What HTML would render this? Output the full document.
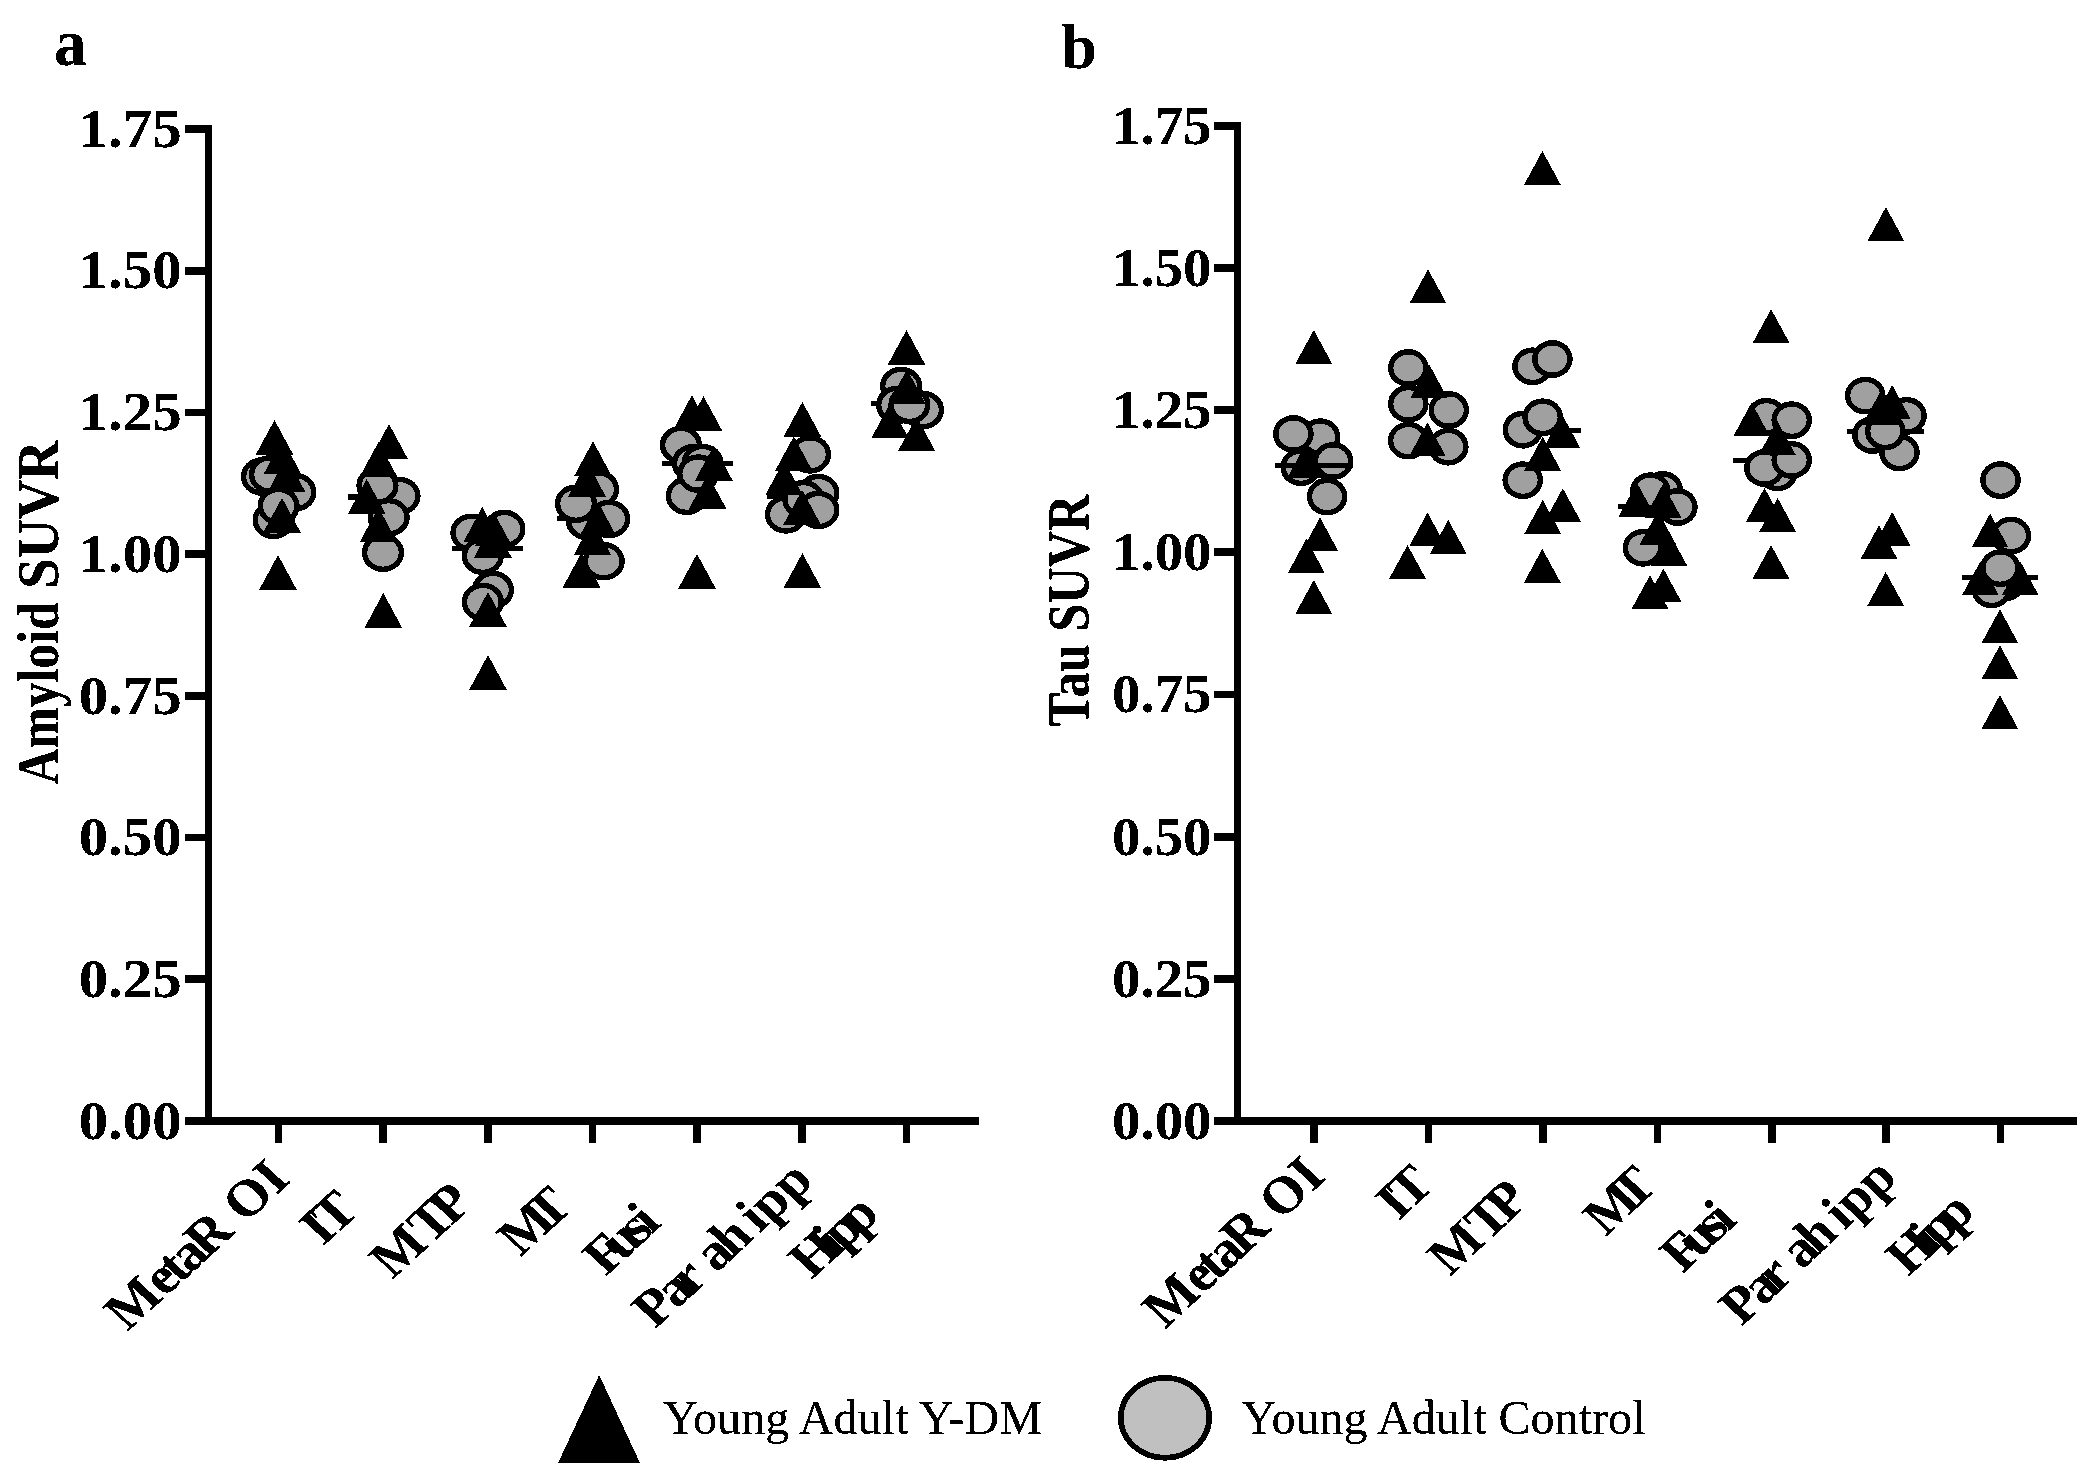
<!DOCTYPE html>
<html lang="en"><head><meta charset="utf-8"><title>Amyloid and Tau SUVR</title>
<style>html,body{margin:0;padding:0;background:#fff}svg{display:block}</style></head>
<body>
<svg width="2099" height="1480" viewBox="0 0 2099 1480" font-family='"Liberation Serif", serif' fill="#000">
<rect width="2099" height="1480" fill="#fff"/>
<defs><filter id="crisp" x="0" y="0" width="100%" height="100%" filterUnits="userSpaceOnUse" color-interpolation-filters="sRGB"><feComponentTransfer><feFuncA type="discrete" tableValues="0 0 1 1 1"/></feComponentTransfer></filter></defs>
<g shape-rendering="crispEdges">
<rect x="205" y="125.0" width="7" height="1000.0"/>
<rect x="185" y="1117" width="794" height="8"/>
<rect x="185" y="125.0" width="21" height="7.8"/>
<rect x="185" y="266.7" width="21" height="7.8"/>
<rect x="185" y="408.5" width="21" height="7.8"/>
<rect x="185" y="550.2" width="21" height="7.8"/>
<rect x="185" y="691.9" width="21" height="7.8"/>
<rect x="185" y="833.6" width="21" height="7.8"/>
<rect x="185" y="975.4" width="21" height="7.8"/>
<rect x="274.7" y="1124" width="7.6" height="19"/>
<rect x="379.4" y="1124" width="7.6" height="19"/>
<rect x="484.0" y="1124" width="7.6" height="19"/>
<rect x="588.7" y="1124" width="7.6" height="19"/>
<rect x="693.4" y="1124" width="7.6" height="19"/>
<rect x="798.1" y="1124" width="7.6" height="19"/>
<rect x="902.7" y="1124" width="7.6" height="19"/>
<rect x="1234" y="121.8" width="7" height="1003.2"/>
<rect x="1214" y="1117" width="863" height="8"/>
<rect x="1214" y="121.8" width="21" height="7.8"/>
<rect x="1214" y="264.0" width="21" height="7.8"/>
<rect x="1214" y="406.2" width="21" height="7.8"/>
<rect x="1214" y="548.4" width="21" height="7.8"/>
<rect x="1214" y="690.6" width="21" height="7.8"/>
<rect x="1214" y="832.8" width="21" height="7.8"/>
<rect x="1214" y="974.9" width="21" height="7.8"/>
<rect x="1310.2" y="1124" width="7.6" height="19"/>
<rect x="1424.6" y="1124" width="7.6" height="19"/>
<rect x="1539.1" y="1124" width="7.6" height="19"/>
<rect x="1653.5" y="1124" width="7.6" height="19"/>
<rect x="1767.9" y="1124" width="7.6" height="19"/>
<rect x="1882.4" y="1124" width="7.6" height="19"/>
<rect x="1996.8" y="1124" width="7.6" height="19"/>
</g>
<g shape-rendering="crispEdges">
<ellipse cx="262.0" cy="476.5" rx="18.4" ry="16.6" fill="#a0a0a0" stroke="#000" stroke-width="5.4"/>
<ellipse cx="270.0" cy="474.5" rx="18.4" ry="16.6" fill="#a0a0a0" stroke="#000" stroke-width="5.4"/>
<ellipse cx="295.4" cy="492.2" rx="18.4" ry="16.6" fill="#a0a0a0" stroke="#000" stroke-width="5.4"/>
<ellipse cx="273.6" cy="520.0" rx="18.4" ry="16.6" fill="#a0a0a0" stroke="#000" stroke-width="5.4"/>
<ellipse cx="278.6" cy="506.0" rx="18.4" ry="16.6" fill="#a0a0a0" stroke="#000" stroke-width="5.4"/>
<polygon points="274.5,420.0 255.7,454.8 293.3,454.8"/>
<polygon points="282.5,439.2 263.7,474.0 301.3,474.0"/>
<polygon points="286.5,457.0 267.7,491.8 305.3,491.8"/>
<polygon points="282.0,497.8 263.2,532.6 300.8,532.6"/>
<polygon points="278.0,555.0 259.2,589.8 296.8,589.8"/>
<rect x="347.6" y="494.3" width="71.0" height="5.4"/>
<ellipse cx="399.5" cy="496.0" rx="18.4" ry="16.6" fill="#a0a0a0" stroke="#000" stroke-width="5.4"/>
<ellipse cx="377.5" cy="485.6" rx="18.4" ry="16.6" fill="#a0a0a0" stroke="#000" stroke-width="5.4"/>
<ellipse cx="388.7" cy="517.3" rx="18.4" ry="16.6" fill="#a0a0a0" stroke="#000" stroke-width="5.4"/>
<ellipse cx="383.0" cy="552.7" rx="18.4" ry="16.6" fill="#a0a0a0" stroke="#000" stroke-width="5.4"/>
<polygon points="389.0,424.0 370.2,458.8 407.8,458.8"/>
<polygon points="378.5,442.0 359.7,476.8 397.3,476.8"/>
<polygon points="366.7,479.0 347.9,513.8 385.5,513.8"/>
<polygon points="378.5,507.3 359.7,542.1 397.3,542.1"/>
<polygon points="383.3,593.0 364.5,627.8 402.1,627.8"/>
<ellipse cx="471.4" cy="532.8" rx="18.4" ry="16.6" fill="#a0a0a0" stroke="#000" stroke-width="5.4"/>
<ellipse cx="504.4" cy="529.0" rx="18.4" ry="16.6" fill="#a0a0a0" stroke="#000" stroke-width="5.4"/>
<rect x="452.0" y="545.8" width="70.7" height="5.4"/>
<ellipse cx="482.8" cy="555.8" rx="18.4" ry="16.6" fill="#a0a0a0" stroke="#000" stroke-width="5.4"/>
<ellipse cx="493.0" cy="590.0" rx="18.4" ry="16.6" fill="#a0a0a0" stroke="#000" stroke-width="5.4"/>
<ellipse cx="482.8" cy="602.0" rx="18.4" ry="16.6" fill="#a0a0a0" stroke="#000" stroke-width="5.4"/>
<polygon points="482.3,507.0 463.5,541.8 501.1,541.8"/>
<polygon points="493.5,511.6 474.7,546.4 512.3,546.4"/>
<polygon points="492.8,522.7 474.0,557.5 511.6,557.5"/>
<polygon points="488.0,592.0 469.2,626.8 506.8,626.8"/>
<polygon points="488.0,655.0 469.2,689.8 506.8,689.8"/>
<ellipse cx="587.0" cy="521.0" rx="18.4" ry="16.6" fill="#a0a0a0" stroke="#000" stroke-width="5.4"/>
<rect x="557.0" y="515.7" width="71.0" height="5.4"/>
<ellipse cx="598.1" cy="489.3" rx="18.4" ry="16.6" fill="#a0a0a0" stroke="#000" stroke-width="5.4"/>
<ellipse cx="576.0" cy="503.7" rx="18.4" ry="16.6" fill="#a0a0a0" stroke="#000" stroke-width="5.4"/>
<ellipse cx="609.2" cy="519.0" rx="18.4" ry="16.6" fill="#a0a0a0" stroke="#000" stroke-width="5.4"/>
<ellipse cx="603.7" cy="561.2" rx="18.4" ry="16.6" fill="#a0a0a0" stroke="#000" stroke-width="5.4"/>
<polygon points="593.0,441.2 574.2,476.0 611.8,476.0"/>
<polygon points="587.0,461.7 568.2,496.5 605.8,496.5"/>
<polygon points="598.0,502.0 579.2,536.8 616.8,536.8"/>
<polygon points="592.4,520.4 573.6,555.2 611.2,555.2"/>
<polygon points="581.5,552.7 562.7,587.5 600.3,587.5"/>
<ellipse cx="681.0" cy="445.0" rx="18.4" ry="16.6" fill="#a0a0a0" stroke="#000" stroke-width="5.4"/>
<ellipse cx="686.8" cy="495.8" rx="18.4" ry="16.6" fill="#a0a0a0" stroke="#000" stroke-width="5.4"/>
<rect x="661.9" y="460.6" width="70.9" height="5.4"/>
<ellipse cx="692.9" cy="463.4" rx="18.4" ry="16.6" fill="#a0a0a0" stroke="#000" stroke-width="5.4"/>
<ellipse cx="702.5" cy="463.0" rx="18.4" ry="16.6" fill="#a0a0a0" stroke="#000" stroke-width="5.4"/>
<ellipse cx="698.2" cy="473.6" rx="18.4" ry="16.6" fill="#a0a0a0" stroke="#000" stroke-width="5.4"/>
<polygon points="713.8,445.7 695.0,480.5 732.6,480.5"/>
<polygon points="707.7,474.2 688.9,509.0 726.5,509.0"/>
<polygon points="691.9,395.2 673.1,430.0 710.7,430.0"/>
<polygon points="703.5,396.1 684.7,430.9 722.3,430.9"/>
<polygon points="697.0,553.9 678.2,588.7 715.8,588.7"/>
<rect x="766.8" y="493.3" width="70.7" height="5.4"/>
<ellipse cx="810.0" cy="454.4" rx="18.4" ry="16.6" fill="#a0a0a0" stroke="#000" stroke-width="5.4"/>
<ellipse cx="818.4" cy="493.0" rx="18.4" ry="16.6" fill="#a0a0a0" stroke="#000" stroke-width="5.4"/>
<ellipse cx="785.9" cy="514.4" rx="18.4" ry="16.6" fill="#a0a0a0" stroke="#000" stroke-width="5.4"/>
<ellipse cx="803.4" cy="499.2" rx="18.4" ry="16.6" fill="#a0a0a0" stroke="#000" stroke-width="5.4"/>
<ellipse cx="818.4" cy="510.0" rx="18.4" ry="16.6" fill="#a0a0a0" stroke="#000" stroke-width="5.4"/>
<polygon points="802.4,401.9 783.6,436.7 821.2,436.7"/>
<polygon points="793.8,436.3 775.0,471.1 812.6,471.1"/>
<polygon points="784.0,460.5 765.2,495.3 802.8,495.3"/>
<polygon points="802.1,489.9 783.3,524.7 820.9,524.7"/>
<polygon points="802.4,553.1 783.6,587.9 821.2,587.9"/>
<rect x="870.8" y="400.9" width="71.0" height="5.4"/>
<ellipse cx="901.1" cy="386.0" rx="18.4" ry="16.6" fill="#a0a0a0" stroke="#000" stroke-width="5.4"/>
<ellipse cx="897.1" cy="405.0" rx="18.4" ry="16.6" fill="#a0a0a0" stroke="#000" stroke-width="5.4"/>
<ellipse cx="923.0" cy="410.0" rx="18.4" ry="16.6" fill="#a0a0a0" stroke="#000" stroke-width="5.4"/>
<ellipse cx="909.4" cy="404.8" rx="18.4" ry="16.6" fill="#a0a0a0" stroke="#000" stroke-width="5.4"/>
<polygon points="906.5,330.0 887.7,364.8 925.3,364.8"/>
<polygon points="907.0,369.2 888.2,404.0 925.8,404.0"/>
<polygon points="890.0,403.6 871.2,438.4 908.8,438.4"/>
<polygon points="916.6,416.6 897.8,451.4 935.4,451.4"/>
<ellipse cx="1320.2" cy="437.2" rx="17.6" ry="16.2" fill="#a0a0a0" stroke="#000" stroke-width="5.4"/>
<ellipse cx="1293.4" cy="434.0" rx="17.6" ry="16.2" fill="#a0a0a0" stroke="#000" stroke-width="5.4"/>
<ellipse cx="1300.7" cy="467.2" rx="17.6" ry="16.2" fill="#a0a0a0" stroke="#000" stroke-width="5.4"/>
<ellipse cx="1333.1" cy="461.0" rx="17.6" ry="16.2" fill="#a0a0a0" stroke="#000" stroke-width="5.4"/>
<ellipse cx="1327.1" cy="496.6" rx="17.6" ry="16.2" fill="#a0a0a0" stroke="#000" stroke-width="5.4"/>
<polygon points="1313.8,330.0 1295.5,363.7 1332.1,363.7"/>
<polygon points="1305.7,443.8 1287.4,477.5 1324.0,477.5"/>
<polygon points="1320.0,517.5 1301.7,551.2 1338.3,551.2"/>
<polygon points="1306.3,539.0 1288.0,572.7 1324.6,572.7"/>
<polygon points="1313.8,580.0 1295.5,613.7 1332.1,613.7"/>
<rect x="1275.0" y="462.8" width="77.8" height="5.4"/>
<ellipse cx="1408.3" cy="368.0" rx="17.6" ry="16.2" fill="#a0a0a0" stroke="#000" stroke-width="5.4"/>
<ellipse cx="1408.3" cy="403.8" rx="17.6" ry="16.2" fill="#a0a0a0" stroke="#000" stroke-width="5.4"/>
<ellipse cx="1448.8" cy="410.0" rx="17.6" ry="16.2" fill="#a0a0a0" stroke="#000" stroke-width="5.4"/>
<ellipse cx="1408.3" cy="440.6" rx="17.6" ry="16.2" fill="#a0a0a0" stroke="#000" stroke-width="5.4"/>
<ellipse cx="1448.3" cy="446.7" rx="17.6" ry="16.2" fill="#a0a0a0" stroke="#000" stroke-width="5.4"/>
<polygon points="1428.0,269.3 1409.7,303.0 1446.3,303.0"/>
<polygon points="1429.0,364.0 1410.7,397.7 1447.3,397.7"/>
<polygon points="1427.5,422.5 1409.2,456.2 1445.8,456.2"/>
<polygon points="1427.5,512.5 1409.2,546.2 1445.8,546.2"/>
<polygon points="1448.3,520.0 1430.0,553.7 1466.6,553.7"/>
<polygon points="1407.5,545.0 1389.2,578.7 1425.8,578.7"/>
<rect x="1503.4" y="427.8" width="77.6" height="5.4"/>
<ellipse cx="1532.5" cy="366.3" rx="17.6" ry="16.2" fill="#a0a0a0" stroke="#000" stroke-width="5.4"/>
<ellipse cx="1552.4" cy="359.0" rx="17.6" ry="16.2" fill="#a0a0a0" stroke="#000" stroke-width="5.4"/>
<ellipse cx="1522.8" cy="429.7" rx="17.6" ry="16.2" fill="#a0a0a0" stroke="#000" stroke-width="5.4"/>
<ellipse cx="1542.7" cy="417.3" rx="17.6" ry="16.2" fill="#a0a0a0" stroke="#000" stroke-width="5.4"/>
<ellipse cx="1522.7" cy="480.2" rx="17.6" ry="16.2" fill="#a0a0a0" stroke="#000" stroke-width="5.4"/>
<polygon points="1542.4,151.0 1524.1,184.7 1560.7,184.7"/>
<polygon points="1562.0,414.3 1543.7,448.0 1580.3,448.0"/>
<polygon points="1542.7,436.8 1524.4,470.5 1561.0,470.5"/>
<polygon points="1562.8,488.2 1544.5,521.9 1581.1,521.9"/>
<polygon points="1542.7,499.9 1524.4,533.6 1561.0,533.6"/>
<polygon points="1542.3,548.8 1524.0,582.5 1560.6,582.5"/>
<rect x="1618.0" y="503.7" width="77.6" height="5.4"/>
<ellipse cx="1662.7" cy="490.0" rx="17.6" ry="16.2" fill="#a0a0a0" stroke="#000" stroke-width="5.4"/>
<ellipse cx="1650.3" cy="491.2" rx="17.6" ry="16.2" fill="#a0a0a0" stroke="#000" stroke-width="5.4"/>
<ellipse cx="1677.4" cy="507.0" rx="17.6" ry="16.2" fill="#a0a0a0" stroke="#000" stroke-width="5.4"/>
<ellipse cx="1643.0" cy="547.8" rx="17.6" ry="16.2" fill="#a0a0a0" stroke="#000" stroke-width="5.4"/>
<polygon points="1637.0,482.8 1618.7,516.5 1655.3,516.5"/>
<polygon points="1663.0,483.9 1644.7,517.6 1681.3,517.6"/>
<polygon points="1657.9,511.0 1639.6,544.7 1676.2,544.7"/>
<polygon points="1669.0,532.2 1650.7,565.9 1687.3,565.9"/>
<polygon points="1663.4,568.6 1645.1,602.3 1681.7,602.3"/>
<polygon points="1650.0,575.1 1631.7,608.8 1668.3,608.8"/>
<rect x="1732.8" y="457.5" width="77.6" height="5.4"/>
<ellipse cx="1777.5" cy="472.4" rx="17.6" ry="16.2" fill="#a0a0a0" stroke="#000" stroke-width="5.4"/>
<ellipse cx="1764.4" cy="468.0" rx="17.6" ry="16.2" fill="#a0a0a0" stroke="#000" stroke-width="5.4"/>
<ellipse cx="1791.7" cy="459.9" rx="17.6" ry="16.2" fill="#a0a0a0" stroke="#000" stroke-width="5.4"/>
<ellipse cx="1766.5" cy="416.8" rx="17.6" ry="16.2" fill="#a0a0a0" stroke="#000" stroke-width="5.4"/>
<polygon points="1751.6,402.6 1733.3,436.3 1769.9,436.3"/>
<ellipse cx="1791.7" cy="420.2" rx="17.6" ry="16.2" fill="#a0a0a0" stroke="#000" stroke-width="5.4"/>
<polygon points="1777.3,420.9 1759.0,454.6 1795.6,454.6"/>
<polygon points="1771.1,309.1 1752.8,342.8 1789.4,342.8"/>
<polygon points="1764.5,487.9 1746.2,521.6 1782.8,521.6"/>
<polygon points="1777.6,497.9 1759.3,531.6 1795.9,531.6"/>
<polygon points="1771.0,545.0 1752.7,578.7 1789.3,578.7"/>
<ellipse cx="1865.3" cy="395.6" rx="17.6" ry="16.2" fill="#a0a0a0" stroke="#000" stroke-width="5.4"/>
<ellipse cx="1906.5" cy="415.9" rx="17.6" ry="16.2" fill="#a0a0a0" stroke="#000" stroke-width="5.4"/>
<ellipse cx="1899.5" cy="452.5" rx="17.6" ry="16.2" fill="#a0a0a0" stroke="#000" stroke-width="5.4"/>
<rect x="1847.0" y="428.6" width="77.0" height="5.4"/>
<ellipse cx="1872.4" cy="435.0" rx="17.6" ry="16.2" fill="#a0a0a0" stroke="#000" stroke-width="5.4"/>
<ellipse cx="1885.3" cy="431.3" rx="17.6" ry="16.2" fill="#a0a0a0" stroke="#000" stroke-width="5.4"/>
<polygon points="1885.9,207.1 1867.6,240.8 1904.2,240.8"/>
<polygon points="1892.2,385.0 1873.9,418.7 1910.5,418.7"/>
<polygon points="1880.4,391.6 1862.1,425.3 1898.7,425.3"/>
<polygon points="1892.2,512.0 1873.9,545.7 1910.5,545.7"/>
<polygon points="1879.0,525.1 1860.7,558.8 1897.3,558.8"/>
<polygon points="1885.7,572.0 1867.4,605.7 1904.0,605.7"/>
<ellipse cx="2000.5" cy="480.1" rx="17.6" ry="16.2" fill="#a0a0a0" stroke="#000" stroke-width="5.4"/>
<ellipse cx="2011.0" cy="535.6" rx="17.6" ry="16.2" fill="#a0a0a0" stroke="#000" stroke-width="5.4"/>
<ellipse cx="2005.2" cy="582.5" rx="17.6" ry="16.2" fill="#a0a0a0" stroke="#000" stroke-width="5.4"/>
<ellipse cx="1991.7" cy="589.3" rx="17.6" ry="16.2" fill="#a0a0a0" stroke="#000" stroke-width="5.4"/>
<polygon points="1990.1,513.5 1971.8,547.2 2008.4,547.2"/>
<polygon points="1980.4,561.4 1962.1,595.1 1998.7,595.1"/>
<polygon points="2020.3,561.4 2002.0,595.1 2038.6,595.1"/>
<rect x="1961.8" y="574.7" width="76.4" height="5.4"/>
<ellipse cx="2000.4" cy="568.1" rx="17.6" ry="16.2" fill="#a0a0a0" stroke="#000" stroke-width="5.4"/>
<polygon points="1999.9,609.3 1981.6,643.0 2018.2,643.0"/>
<polygon points="1999.9,645.3 1981.6,679.0 2018.2,679.0"/>
<polygon points="1999.9,695.1 1981.6,728.8 2018.2,728.8"/>
</g>
<g shape-rendering="crispEdges">
<polygon points="599.2,1375 558,1463 640,1463"/>
<ellipse cx="1165" cy="1417.8" rx="44.2" ry="40" fill="#c0c0c0" stroke="#000" stroke-width="5.7"/>
</g>
<g filter="url(#crisp)">
<text transform="translate(181.5,146.7) scale(1.088,1)" text-anchor="end" font-size="54" font-weight="bold">1.75</text>
<text transform="translate(181.5,288.4) scale(1.088,1)" text-anchor="end" font-size="54" font-weight="bold">1.50</text>
<text transform="translate(181.5,430.2) scale(1.088,1)" text-anchor="end" font-size="54" font-weight="bold">1.25</text>
<text transform="translate(181.5,571.9) scale(1.088,1)" text-anchor="end" font-size="54" font-weight="bold">1.00</text>
<text transform="translate(181.5,713.6) scale(1.088,1)" text-anchor="end" font-size="54" font-weight="bold">0.75</text>
<text transform="translate(181.5,855.3) scale(1.088,1)" text-anchor="end" font-size="54" font-weight="bold">0.50</text>
<text transform="translate(181.5,997.1) scale(1.088,1)" text-anchor="end" font-size="54" font-weight="bold">0.25</text>
<text transform="translate(181.5,1138.8) scale(1.088,1)" text-anchor="end" font-size="54" font-weight="bold">0.00</text>
<text transform="translate(1211.5,143.5) scale(1.053,1)" text-anchor="end" font-size="54" font-weight="bold">1.75</text>
<text transform="translate(1211.5,285.7) scale(1.053,1)" text-anchor="end" font-size="54" font-weight="bold">1.50</text>
<text transform="translate(1211.5,427.9) scale(1.053,1)" text-anchor="end" font-size="54" font-weight="bold">1.25</text>
<text transform="translate(1211.5,570.1) scale(1.053,1)" text-anchor="end" font-size="54" font-weight="bold">1.00</text>
<text transform="translate(1211.5,712.3) scale(1.053,1)" text-anchor="end" font-size="54" font-weight="bold">0.75</text>
<text transform="translate(1211.5,854.5) scale(1.053,1)" text-anchor="end" font-size="54" font-weight="bold">0.50</text>
<text transform="translate(1211.5,996.6) scale(1.053,1)" text-anchor="end" font-size="54" font-weight="bold">0.25</text>
<text transform="translate(1211.5,1138.8) scale(1.053,1)" text-anchor="end" font-size="54" font-weight="bold">0.00</text>
<text x="54" y="65" font-size="65" font-weight="bold">a</text>
<text x="1061.5" y="67.5" font-size="63.5" font-weight="bold">b</text>
<text transform="translate(58,784.4) rotate(-90)" font-size="60" font-weight="bold"><tspan x="0" textLength="182" lengthAdjust="spacingAndGlyphs">Amyloid</tspan> <tspan x="195.7" textLength="148" lengthAdjust="spacingAndGlyphs">SUVR</tspan></text>
<text transform="translate(1088.4,726.4) rotate(-90)" font-size="60" font-weight="bold" textLength="232" lengthAdjust="spacingAndGlyphs">Tau SUVR</text>
<text transform="translate(127.2,1332.3) scale(1.09,1) rotate(-45)" font-size="52" font-weight="bold"><tspan dx="0 0 -4 -3 -5 12 0">MetaROI</tspan></text>
<text transform="translate(322.8,1246.8) scale(1.09,1) rotate(-45)" font-size="52" font-weight="bold"><tspan dx="0 -5.5">IT</tspan></text>
<text transform="translate(392.5,1280.0) scale(1.09,1) rotate(-45)" font-size="52" font-weight="bold"><tspan dx="0 0 -8">MTP</tspan></text>
<text transform="translate(520.5,1257.6) scale(1.09,1) rotate(-45)" font-size="52" font-weight="bold"><tspan dx="0 -13.4">MT</tspan></text>
<text transform="translate(605.8,1276.8) scale(1.09,1) rotate(-45)" font-size="52" font-weight="bold"><tspan dx="0 -10 -7 -4.5">Fusi</tspan></text>
<text transform="translate(655.0,1329.6) scale(1.09,1) rotate(-45)" font-size="52" font-weight="bold"><tspan dx="0 -3.4 -7.2 9.6 -5 6 0 0">Parahipp</tspan></text>
<text transform="translate(811.8,1279.9) scale(1.09,1) rotate(-45)" font-size="52" font-weight="bold"><tspan dx="0 -8.7 -5.6 -8.3">Hipp</tspan></text>
<text transform="translate(1165.2,1329.4) scale(1.07,1) rotate(-45)" font-size="52" font-weight="bold"><tspan dx="0 0 -4 -3 -5 12 0">MetaROI</tspan></text>
<text transform="translate(1398.6,1221.4) scale(1.07,1) rotate(-45)" font-size="52" font-weight="bold"><tspan dx="0 -5.5">IT</tspan></text>
<text transform="translate(1450.0,1277.1) scale(1.07,1) rotate(-45)" font-size="52" font-weight="bold"><tspan dx="0 0 -8">MTP</tspan></text>
<text transform="translate(1605.8,1237.2) scale(1.07,1) rotate(-45)" font-size="52" font-weight="bold"><tspan dx="0 -13.4">MT</tspan></text>
<text transform="translate(1682.8,1273.9) scale(1.07,1) rotate(-45)" font-size="52" font-weight="bold"><tspan dx="0 -10 -7 -4.5">Fusi</tspan></text>
<text transform="translate(1741.8,1326.7) scale(1.07,1) rotate(-45)" font-size="52" font-weight="bold"><tspan dx="0 -3.4 -7.2 9.6 -5 6 0 0">Parahipp</tspan></text>
<text transform="translate(1908.4,1277.0) scale(1.07,1) rotate(-45)" font-size="52" font-weight="bold"><tspan dx="0 -8.7 -5.6 -8.3">Hipp</tspan></text>
<text x="663" y="1434" font-size="48" textLength="379" lengthAdjust="spacingAndGlyphs">Young Adult Y-DM</text>
<text x="1241.5" y="1433.5" font-size="48" textLength="404" lengthAdjust="spacingAndGlyphs">Young Adult Control</text>
</g>
</svg>
</body></html>
